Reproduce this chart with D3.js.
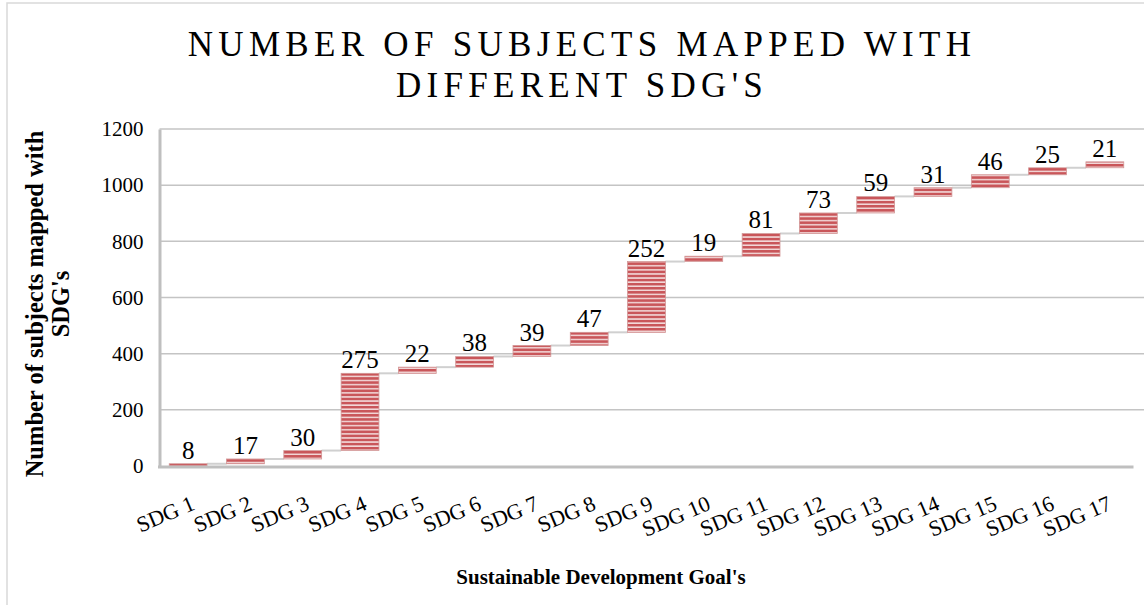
<!DOCTYPE html>
<html>
<head>
<meta charset="utf-8">
<script src="https://cdn.jsdelivr.net/npm/d3@7"></script>
<style>
body { margin: 0; background: #fff; }
text { font-family: "Liberation Serif", "Times New Roman", serif; }
</style>
</head>
<body>
<script>
var categories = ["SDG 1","SDG 2","SDG 3","SDG 4","SDG 5","SDG 6","SDG 7","SDG 8","SDG 9",
    "SDG 10","SDG 11","SDG 12","SDG 13","SDG 14","SDG 15","SDG 16","SDG 17"];
var values = [8,17,30,275,22,38,39,47,252,19,81,73,59,31,46,25,21];
var yTicks = [0,200,400,600,800,1000,1200];

var width = 1144, height = 605;
var plotLeft = 159.5, plotRight = 1133.5, plotTop = 129, plotBottom = 466;

// running totals for the waterfall
var steps = [];
var run = 0;
values.forEach(function(v, i){
    steps.push({cat: categories[i], v: v, start: run, end: run + v});
    run += v;
});

var svg = d3.select("body").append("svg")
    .attr("width", width)
    .attr("height", height);

var defs = svg.append("defs");
var pat = defs.append("pattern")
    .attr("id", "stripes")
    .attr("patternUnits", "userSpaceOnUse")
    .attr("width", 8).attr("height", 4.1);
pat.append("rect").attr("width", 8).attr("height", 4.1).attr("fill", "#f3dada");
pat.append("rect").attr("width", 8).attr("height", 2.6).attr("fill", "#c9565a");

// chart frame
svg.append("rect")
    .attr("x", 7).attr("y", 3).attr("width", width).attr("height", height)
    .attr("fill", "none").attr("stroke", "#d9d9d9").attr("stroke-width", 1.5);

var x = d3.scaleBand().domain(categories).range([plotLeft, plotRight]).paddingInner(0.34).paddingOuter(0.17);
var y = d3.scaleLinear().domain([0, 1200]).range([plotBottom, plotTop]);

// gridlines
svg.append("g").selectAll("line")
    .data(yTicks.slice(1)).enter()
    .append("line")
    .attr("x1", plotLeft).attr("x2", width)
    .attr("y1", function(d){return y(d);}).attr("y2", function(d){return y(d);})
    .attr("stroke", "#c4c4c4").attr("stroke-width", 1.5);

// y axis
var yAxis = svg.append("g")
    .attr("transform", "translate(" + plotLeft + ",0)")
    .call(d3.axisLeft(y).tickValues(yTicks).tickFormat(d3.format("d")).tickSize(0).tickPadding(16));
yAxis.select(".domain").attr("stroke", "#bfbfbf").attr("stroke-width", 3);
yAxis.selectAll("text").attr("font-size", 21).attr("fill", "#000")
    .attr("font-family", "Liberation Serif, serif");

// connectors
svg.append("g").selectAll("line")
    .data(steps.slice(0, -1)).enter()
    .append("line")
    .attr("x1", function(d){return x(d.cat) + x.bandwidth();})
    .attr("x2", function(d, i){return x(categories[i+1]);})
    .attr("y1", function(d){return y(d.end);})
    .attr("y2", function(d){return y(d.end);})
    .attr("stroke", "#d0d0d0").attr("stroke-width", 2);

// bars
svg.append("g").selectAll("rect")
    .data(steps).enter()
    .append("rect")
    .attr("x", function(d){return x(d.cat);})
    .attr("width", x.bandwidth())
    .attr("y", function(d){return y(d.end);})
    .attr("height", function(d){return y(d.start) - y(d.end);})
    .attr("fill", "url(#stripes)")
    .attr("stroke", "#d29595").attr("stroke-width", 0.8);

// x axis line
svg.append("line")
    .attr("x1", plotLeft - 1.5).attr("x2", plotRight)
    .attr("y1", plotBottom + 1).attr("y2", plotBottom + 1)
    .attr("stroke", "#bfbfbf").attr("stroke-width", 3);

// data labels
svg.append("g").selectAll("text")
    .data(steps).enter()
    .append("text")
    .attr("x", function(d){return x(d.cat) + x.bandwidth()/2;})
    .attr("y", function(d){return y(d.end) - 5;})
    .attr("text-anchor", "middle")
    .attr("font-size", 25)
    .text(function(d){return d.v;});

// category labels
svg.append("g").selectAll("text")
    .data(categories).enter()
    .append("text")
    .attr("transform", function(d){return "translate(" + (x(d) + x.bandwidth()/2 + 8) + "," + (plotBottom + 43) + ") rotate(-23)";})
    .attr("text-anchor", "end")
    .attr("font-size", 22)
    .text(function(d){return d;});

// title
var title = svg.append("text")
    .attr("text-anchor", "middle")
    .attr("font-size", 35)
    .attr("letter-spacing", 5.3);
title.append("tspan").attr("x", 582).attr("y", 56).text("NUMBER OF SUBJECTS MAPPED WITH");
title.append("tspan").attr("x", 582).attr("y", 97).text("DIFFERENT SDG'S");

// axis titles
var yt = svg.append("text")
    .attr("transform", "translate(0,304) rotate(-90)")
    .attr("text-anchor", "middle")
    .attr("font-size", 24.5)
    .attr("font-weight", "bold");
yt.append("tspan").attr("x", 0).attr("y", 43).text("Number of subjects mapped with");
yt.append("tspan").attr("x", 0).attr("y", 69).text("SDG's");

svg.append("text")
    .attr("x", 601).attr("y", 584)
    .attr("text-anchor", "middle")
    .attr("font-size", 21)
    .attr("font-weight", "bold")
    .text("Sustainable Development Goal's");
</script>
</body>
</html>
